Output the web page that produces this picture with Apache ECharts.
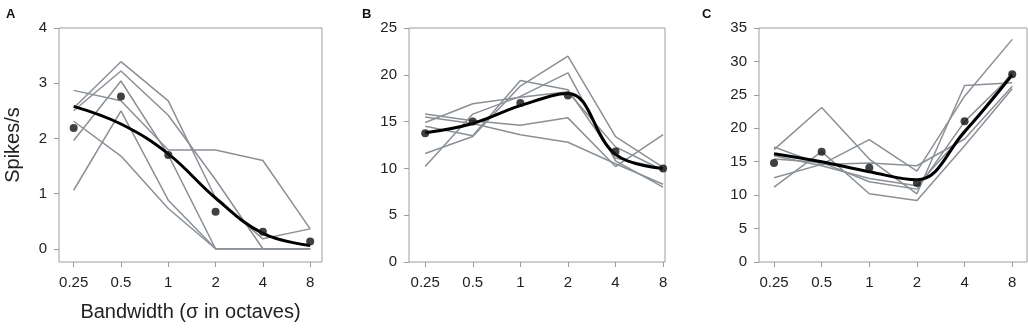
<!DOCTYPE html>
<html>
<head>
<meta charset="utf-8">
<script src="https://cdn.jsdelivr.net/npm/echarts@6/dist/echarts.min.js"></script>
<style>
  html, body { margin: 0; padding: 0; background: #fff; }
  #box { width: 1028px; height: 328px; }
</style>
</head>
<body>
<div id="box"></div>
<script>
// bandwidth categories (sigma in octaves), equally spaced on a log axis
var categories = ['0.25', '0.5', '1', '2', '4', '8'];

// panel A: single cells (gray), mean (dots), fit (black curve)
var aCells = [
  [2.55, 3.39, 2.68, 0.92, 0.18, 0.36],
  [2.50, 3.22, 2.42, 1.25, 0, 0],
  [1.96, 3.04, 1.70, 0, 0, 0],
  [1.06, 2.50, 0.88, 0, 0, 0],
  [2.31, 1.68, 0.73, 0, 0, 0],
  [2.87, 2.68, 1.79, 1.79, 1.60, 0.36]
];
var aMean = [2.19, 2.76, 1.70, 0.67, 0.31, 0.13];
var aFit = [2.58, 2.26, 1.72, 0.92, 0.28, 0.06];
var aTicks = [0, 1, 2, 3, 4];

// panel B
var bCells = [
  [15.8, 15.1, 14.6, 15.4, 10.2, 13.6],
  [15.5, 14.8, 13.6, 12.8, 10.5, 8.3],
  [14.9, 16.9, 17.6, 18.2, 12.3, 9.8],
  [14.5, 13.5, 19.4, 18.4, 11.1, 10.0],
  [11.6, 13.4, 18.8, 22.0, 13.4, 10.1],
  [10.2, 15.8, 17.7, 20.2, 10.8, 8.0]
];
var bMean = [13.75, 15.0, 17.0, 17.8, 11.8, 10.0];
var bFit = [13.8, 14.8, 16.7, 18.0, 11.5, 10.0];
var bTicks = [0, 5, 10, 15, 20, 25];

// panel C
var cCells = [
  [16.8, 23.1, 15.4, 10.2, 26.4, 26.8],
  [12.6, 14.6, 18.3, 13.6, 24.8, 33.3],
  [11.2, 16.5, 10.2, 9.2, 17.4, 25.9],
  [17.2, 14.6, 14.8, 14.4, 18.4, 26.3],
  [15.9, 14.4, 12.5, 11.4, 19.3, 28.4],
  [15.4, 14.9, 12.0, 10.9, 21.0, 28.0]
];
var cMean = [14.8, 16.5, 14.1, 11.8, 21.05, 28.1];
var cFit = [16.2, 15.0, 13.5, 12.3, 19.5, 28.0];
var cTicks = [0, 5, 10, 15, 20, 25, 30, 35];

var xIdx = [0, 1, 2, 3, 4, 5];
var font = 'Liberation Sans, Arial, Helvetica, sans-serif';
var boxColor = '#9c9c9c';
var cellColor = '#8a9096';

function pts(vals) {
  return vals.map(function (v, i) { return [xIdx[i], v]; });
}

var panels = [
  { label: 'A', left: 59, right: 706, xmin: -0.31, xmax: 5.25, ymin: -0.24, ymax: 4, ticks: aTicks, cells: aCells, mean: aMean, fit: aFit },
  { label: 'B', left: 409, right: 363, xmin: -0.34, xmax: 5.04, ymin: 0, ymax: 25, ticks: bTicks, cells: bCells, mean: bMean, fit: bFit },
  { label: 'C', left: 759, right: 1, xmin: -0.315, xmax: 5.31, ymin: 0, ymax: 35, ticks: cTicks, cells: cCells, mean: cMean, fit: cFit }
];

var grid = [], xAxis = [], yAxis = [], series = [], title = [];
panels.forEach(function (p, k) {
  grid.push({ left: p.left, right: p.right, top: 28, bottom: 66, show: true, borderColor: boxColor, borderWidth: 1,
    containLabel: false, outerBoundsMode: 'none' });
  title.push({ text: p.label, left: [1, 357, 697][k], top: 3, textStyle: { fontFamily: font, fontSize: 13, fontWeight: 'bold', color: '#111' } });
  xAxis.push({
    type: 'value', gridIndex: k, min: p.xmin, max: p.xmax,
    name: k === 0 ? 'Bandwidth (\u03c3 in octaves)' : '',
    nameLocation: 'middle', nameGap: 40,
    nameTextStyle: { fontFamily: font, fontSize: 20, color: '#222' },
    axisLine: { show: false, onZero: false },
    splitLine: { show: false },
    axisTick: { show: true, length: 5, customValues: xIdx, lineStyle: { color: boxColor } },
    axisLabel: {
      customValues: xIdx, margin: 13, fontFamily: font, fontSize: 15, color: '#222',
      formatter: function (v) { return categories[Math.round(v)]; }
    }
  });
  yAxis.push({
    type: 'value', gridIndex: k, min: p.ymin, max: p.ymax,
    name: k === 0 ? 'Spikes/s' : '',
    nameLocation: 'middle', nameGap: 36,
    nameTextStyle: { fontFamily: font, fontSize: 20, color: '#222' },
    axisLine: { show: false, onZero: false },
    splitLine: { show: false },
    axisTick: { show: true, length: 5, customValues: p.ticks, lineStyle: { color: boxColor } },
    axisLabel: { customValues: p.ticks, margin: 12, fontFamily: font, fontSize: 15, color: '#222' }
  });
  p.cells.forEach(function (c) {
    series.push({ type: 'line', xAxisIndex: k, yAxisIndex: k, data: pts(c), symbol: 'none', silent: true,
      lineStyle: { color: cellColor, width: 1.5 }, z: 2 });
  });
  series.push({ type: 'line', xAxisIndex: k, yAxisIndex: k, data: pts(p.fit), symbol: 'none', smooth: 0.4,
    lineStyle: { color: '#000', width: 3 }, z: 3 });
  series.push({ type: 'scatter', xAxisIndex: k, yAxisIndex: k, data: pts(p.mean), symbolSize: 8,
    itemStyle: { color: '#111' }, z: 4 });
});

var chart = echarts.init(document.getElementById('box'));
chart.setOption({
  animation: false,
  title: title,
  grid: grid,
  xAxis: xAxis,
  yAxis: yAxis,
  series: series
});
</script>
</body>
</html>
